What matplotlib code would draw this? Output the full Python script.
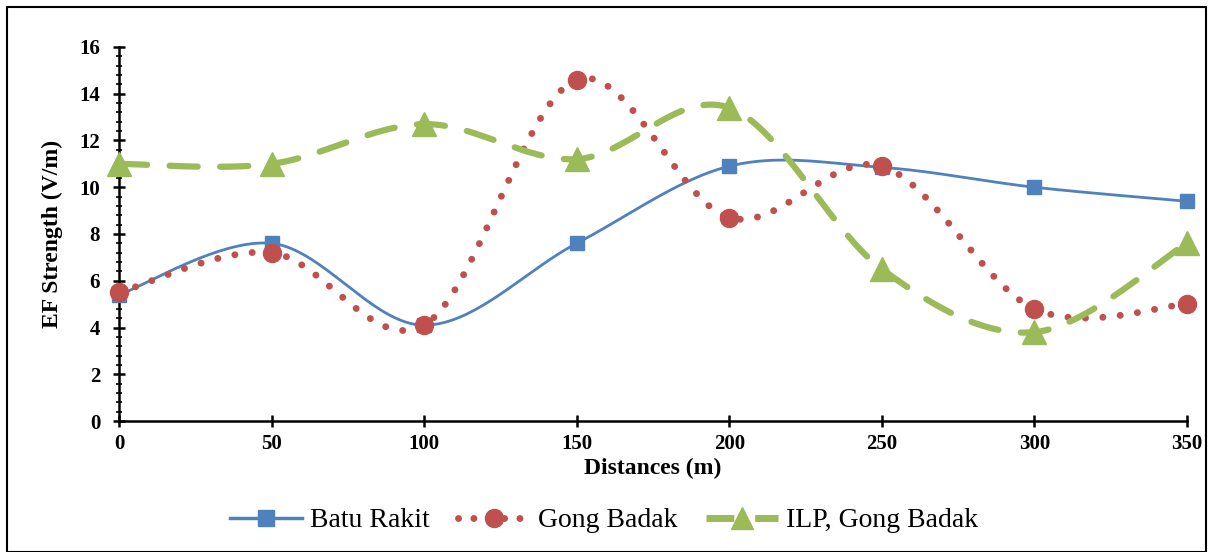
import numpy as np
import matplotlib
matplotlib.use("Agg")
import matplotlib.pyplot as plt
from matplotlib.lines import Line2D
from matplotlib.patches import Rectangle
from matplotlib.ticker import MultipleLocator

distances = [0, 50, 100, 150, 200, 250, 300, 350]
batu_rakit = [5.4, 7.6, 4.1, 7.6, 10.9, 10.85, 10.0, 9.4]
gong_badak = [5.5, 7.2, 4.1, 14.6, 8.7, 10.9, 4.8, 5.0]
ilp_gong_badak = [11.0, 11.0, 12.7, 11.2, 13.4, 6.5, 3.8, 7.6]
series_names = ["Batu Rakit", "Gong Badak", "ILP, Gong Badak"]

plt.rcParams['font.family'] = ['Liberation Serif', 'DejaVu Serif']


def smooth(x, y, n=40):
    # Excel-like smoothed line: cubic Bezier with Catmull-Rom control points
    x = np.asarray(x, float); y = np.asarray(y, float)
    P = np.column_stack([x, y])
    out = []
    for i in range(len(P) - 1):
        p0 = P[i - 1] if i > 0 else P[i]
        p1 = P[i]; p2 = P[i + 1]
        p3 = P[i + 2] if i + 2 < len(P) else P[i + 1]
        c1 = p1 + (p2 - p0) / 6.0
        c2 = p2 - (p3 - p1) / 6.0
        t = np.linspace(0, 1, n)[:, None]
        seg = ((1 - t) ** 3) * p1 + 3 * ((1 - t) ** 2) * t * c1 + 3 * (1 - t) * t ** 2 * c2 + t ** 3 * p2
        out.append(seg if i == 0 else seg[1:])
    s = np.vstack(out)
    return s[:, 0], s[:, 1]


fig = plt.figure(figsize=(12.08, 5.52), dpi=100)
ax = fig.add_axes([0.0985, 0.2373, 0.8841, 0.6776])

blue = '#4F81BD'
red = '#C0504D'
green = '#9BBB59'

sx, sy = smooth(distances, batu_rakit)
ax.plot(sx, sy, color=blue, lw=2.0, zorder=3, solid_capstyle='round')
ax.plot(distances, batu_rakit, ls='none', marker='s', ms=10, color=blue, zorder=4, clip_on=False)

sx, sy = smooth(distances, gong_badak)
ax.plot(sx, sy, color=red, lw=5.0, ls=(0, (0.01, 2.5)), dash_capstyle='round', zorder=5)
ax.plot(distances, gong_badak, ls='none', marker='o', ms=13, color=red, zorder=6, clip_on=False)

sx, sy = smooth(distances, ilp_gong_badak)
ax.plot(sx, sy, color=green, lw=4.5, ls=(0, (4.5, 3.6)), dash_capstyle='round', zorder=7)
ax.plot(distances, ilp_gong_badak, ls='none', marker='^', ms=17, color=green, zorder=8, clip_on=False)

ax.set_xlim(0, 350)
ax.set_ylim(0, 16)
ax.xaxis.set_major_locator(MultipleLocator(50))
ax.yaxis.set_major_locator(MultipleLocator(2))
ax.yaxis.set_minor_locator(MultipleLocator(0.4))
ax.spines['top'].set_visible(False)
ax.spines['right'].set_visible(False)
for s in ['left', 'bottom']:
    ax.spines[s].set_linewidth(1.8)
ax.tick_params(axis='both', which='major', direction='inout', length=9, width=1.8,
               labelsize=15, pad=5)
ax.tick_params(axis='y', which='major', pad=9)
ax.tick_params(axis='y', which='minor', direction='inout', length=5, width=1.2)
for lab in ax.get_xticklabels() + ax.get_yticklabels():
    lab.set_fontweight('bold')
ax.set_xlabel('Distances (m)', fontsize=17, fontweight='bold', labelpad=3)
ax.set_ylabel('EF Strength (V/m)', fontsize=17, fontweight='bold', labelpad=12)

handles = [
    Line2D([], [], color=blue, lw=2.5, marker='s', ms=11),
    Line2D([], [], color=red, lw=5.0, ls=(0, (0.01, 2.2)), dash_capstyle='round', marker='o', ms=13),
    Line2D([], [], color=green, lw=5.0, ls=(0, (4.0, 3.0)), marker='^', ms=16),
]
fig.legend(handles, series_names, loc='center', bbox_to_anchor=(0.5, 0.057), ncol=3,
           frameon=False, fontsize=20, handlelength=2.6, columnspacing=1.0, handletextpad=0.3)

fig.patches.append(Rectangle((0.006, 0.0), 0.992, 0.988, transform=fig.transFigure,
                             fill=False, edgecolor='black', lw=1.5))

fig.savefig('out.png', dpi=100)
